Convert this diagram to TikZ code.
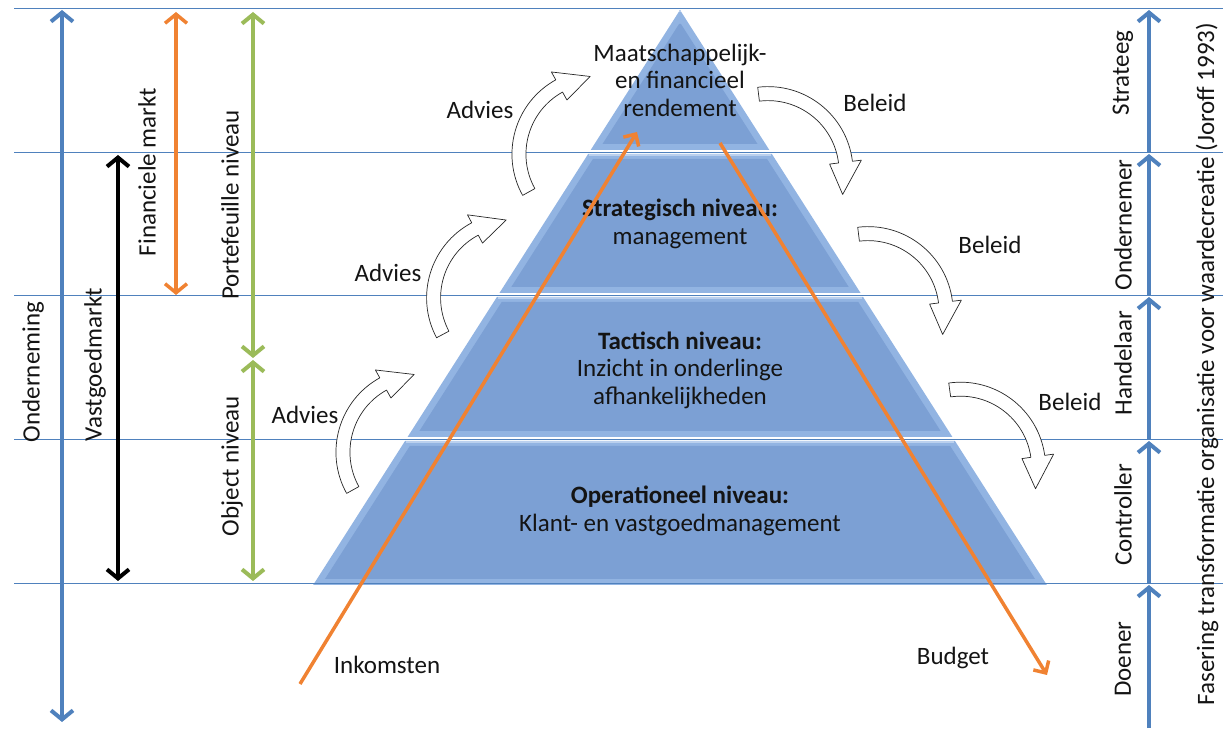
\documentclass[tikz,border=0pt]{standalone}
\usepackage{fontspec}
\setmainfont{Carlito}
\usetikzlibrary{arrows.meta}

\definecolor{lineblue}{RGB}{79,129,189}
\definecolor{arrorange}{RGB}{240,130,50}
\definecolor{arrgreen}{RGB}{155,187,89}
\definecolor{pyredge}{RGB}{146,180,226}
\definecolor{pyrface}{RGB}{124,160,212}
\definecolor{pyrlight}{RGB}{186,208,238}
\definecolor{txtdark}{RGB}{20,20,20}

\begin{document}
\begin{tikzpicture}[x=1pt, y=1pt, font=\fontsize{25}{27.5}\selectfont]
    \tikzstyle{tiertext} = [text=txtdark, align=center];
    \tikzstyle{sidetext} = [text=txtdark, rotate=90];
    \tikzstyle{spanarrow} = [line width=4pt, {Straight Barb[length=9pt,width=22pt]}-{Straight Barb[length=9pt,width=22pt]}];
    \tikzstyle{phasearrow} = [lineblue, line width=4pt, -{Straight Barb[length=9pt,width=22pt]}];
    \tikzstyle{flowarrow} = [arrorange, line width=3.5pt, -{Straight Barb[length=9pt,width=18pt]}];
    \tikzstyle{levelline} = [lineblue, line width=0.9pt];
    \tikzstyle{curlarrow} = [draw=black!85, fill=white, line width=0.7pt, line join=round];

    \tikzset{bendarrow/.pic={
        \draw[curlarrow, shift={(0,-43)}] (147:71) arc[start angle=147, end angle=57, radius=71]
            -- (57:62) -- (33:78) -- (57:94) -- (57:85)
            arc[start angle=57, end angle=147, radius=85] -- cycle;
    }}

    \useasboundingbox (0,0) rectangle (1223,728);

    % pyramid, four tiers
    \foreach \ytop/\ybot in {718/578, 574/435, 431/291, 287/143} {
        \pgfmathsetmacro\wt{0.638*(718-\ytop)}
        \pgfmathsetmacro\wb{0.638*(718-\ybot)}
        \pgfmathsetmacro\yti{min(\ytop-5,704)}
        \pgfmathsetmacro\wti{0.638*(718-\yti)-8}
        \pgfmathsetmacro\ybi{\ybot+6}
        \pgfmathsetmacro\wbi{0.638*(718-\ybi)-8}
        \fill[pyredge] (680-\wb,\ybot) -- (680+\wb,\ybot) -- (680+\wt,\ytop) -- (680-\wt,\ytop) -- cycle;
        \fill[pyrface] (680-\wbi,\ybi) -- (680+\wbi,\ybi) -- (680+\wti,\yti) -- (680-\wti,\yti) -- cycle;
        \draw[pyrlight, line width=2pt] (680-\wt+1,\ytop-1) -- (680+\wt-1,\ytop-1);
    }

    % level lines
    \foreach \y in {720, 576, 433, 289, 145}
        \draw[levelline] (14,\y) -- (1223,\y);

    \node[tiertext](top) at (680,648) {Maatschappelijk-\\en financieel\\rendement};
    \node[tiertext](strat) at (680,504) {\textbf{Strategisch niveau:}\\management};
    \node[tiertext](tact) at (680,358) {\textbf{Tactisch niveau:}\\Inzicht in onderlinge\\afhankelijkheden};
    \node[tiertext](oper) at (680,217) {\textbf{Operationeel niveau:}\\Klant- en vastgoedmanagement};

    % money flows
    \coordinate (ink-s) at (300,44);
    \coordinate (ink-e) at (637,596);
    \coordinate (bud-s) at (720,585);
    \coordinate (bud-e) at (1047,53);
    \draw[flowarrow] (ink-s) -- (ink-e);
    \draw[flowarrow] (bud-s) -- (bud-e);
    \node[tiertext](inkomsten) at (387,63) {Inkomsten};
    \node[tiertext](budget) at (953,70) {Budget};

    % advies / beleid
    \pic[rotate=62] (advA) at (559,594) {bendarrow};
    \pic[rotate=61] (advB) at (474,451) {bendarrow};
    \pic[rotate=62] (advC) at (383,296) {bendarrow};
    \pic[rotate=-50] (belA) at (801,584) {bendarrow};
    \pic[rotate=-50] (belB) at (901,444) {bendarrow};
    \pic[rotate=-49] (belC) at (993,289) {bendarrow};
    \node[tiertext](advA-l) at (480,618) {Advies};
    \node[tiertext](advB-l) at (388,455) {Advies};
    \node[tiertext](advC-l) at (305,313) {Advies};
    \node[tiertext](belA-l) at (875,625) {Beleid};
    \node[tiertext](belB-l) at (990,483) {Beleid};
    \node[tiertext](belC-l) at (1070,326) {Beleid};

    % market spans, left
    \coordinate (ond-t) at (62,718);
    \coordinate (ond-b) at (62,6);
    \coordinate (vgm-t) at (118,573);
    \coordinate (vgm-b) at (118,147);
    \coordinate (fin-t) at (176,716);
    \coordinate (fin-b) at (176,433);
    \coordinate (por-t) at (253,716);
    \coordinate (por-b) at (253,370);
    \coordinate (obj-t) at (253,368);
    \coordinate (obj-b) at (253,147);
    \draw[spanarrow, lineblue] (ond-t) -- (ond-b);
    \draw[spanarrow, black] (vgm-t) -- (vgm-b);
    \draw[spanarrow, arrorange, line width=3.5pt] (fin-t) -- (fin-b);
    \draw[spanarrow, arrgreen] (por-t) -- (por-b);
    \draw[spanarrow, arrgreen] (obj-t) -- (obj-b);
    \node[sidetext](onderneming) at (33,356) {Onderneming};
    \node[sidetext](vastgoed) at (95,363) {Vastgoedmarkt};
    \node[sidetext](financieel) at (147,556) {Financiele markt};
    \node[sidetext](portefeuille) at (230,523) {Portefeuille niveau};
    \node[sidetext](object) at (232,262) {Object niveau};

    % phases, right
    \foreach \i/\yt/\yb in {1/718/576, 2/574/433, 3/431/289, 4/287/145, 5/143/0} {
        \coordinate (ph\i-t) at (1149,\yt);
        \coordinate (ph\i-b) at (1149,\yb);
        \draw[phasearrow] (ph\i-b) -- (ph\i-t);
    }
    \node[sidetext](strateeg) at (1123,655) {Strateeg};
    \node[sidetext](ondernemer) at (1123,503) {Ondernemer};
    \node[sidetext](handelaar) at (1123,365) {Handelaar};
    \node[sidetext](controller) at (1123,213) {Controller};
    \node[sidetext](doener) at (1123,69) {Doener};
    \node[sidetext](fasering) at (1207,364) {Fasering transformatie organisatie voor waardecreatie (Joroff 1993)};
\end{tikzpicture}
\end{document}
